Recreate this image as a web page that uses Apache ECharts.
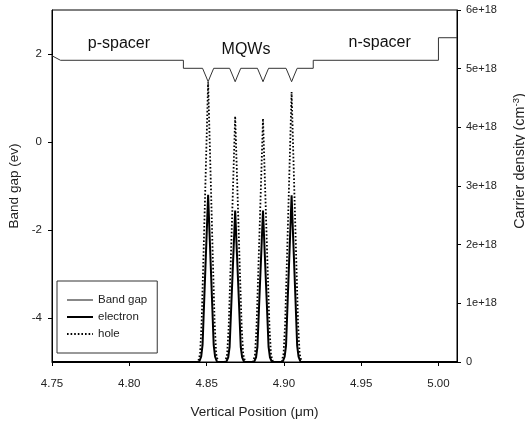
<!DOCTYPE html>
<html>
<head>
<meta charset="utf-8">
<script src="https://cdn.jsdelivr.net/npm/echarts@6/dist/echarts.min.js"></script>
<style>
	html, body { margin: 0; padding: 0; background: #fff; }
	#main { width: 525px; height: 424px; }
</style>
</head>
<body>
<div id="main"></div>
<script>
	'use strict';

	// 能带 (左轴, ev)
	var bandX = [4.75, 4.7555, 4.835, 4.835,
		4.8474, 4.8495, 4.851, 4.8525, 4.8546,
		4.8649, 4.8670, 4.8685, 4.8700, 4.8721,
		4.8829, 4.8850, 4.8865, 4.8880, 4.8901,
		4.9014, 4.9035, 4.9050, 4.9065, 4.9086,
		4.919, 4.919, 5.000, 5.000, 5.012];
	var bandY = [1.96, 1.857, 1.857, 1.675,
		1.675, 1.50, 1.37, 1.50, 1.675,
		1.675, 1.50, 1.37, 1.50, 1.675,
		1.675, 1.50, 1.37, 1.50, 1.675,
		1.675, 1.50, 1.37, 1.50, 1.675,
		1.675, 1.857, 1.857, 2.37, 2.37];

	// 电子浓度 (右轴, 1e18 cm-3)
	var elecX = [4.75,
		4.8452, 4.8465, 4.8474, 4.8485, 4.8498, 4.8510, 4.8522, 4.8535, 4.8546, 4.8555, 4.8568,
		4.8627, 4.8640, 4.8649, 4.8660, 4.8673, 4.8685, 4.8697, 4.8710, 4.8721, 4.8730, 4.8743,
		4.8807, 4.8820, 4.8829, 4.8840, 4.8853, 4.8865, 4.8877, 4.8890, 4.8901, 4.8910, 4.8923,
		4.8992, 4.9005, 4.9014, 4.9025, 4.9038, 4.9050, 4.9062, 4.9075, 4.9086, 4.9095, 4.9108,
		5.012];
	var elecY = [0,
		0, 0.09, 0.29, 1.08, 2.00, 2.85, 2.00, 1.08, 0.29, 0.09, 0,
		0, 0.08, 0.26, 0.98, 1.81, 2.58, 1.81, 0.98, 0.26, 0.08, 0,
		0, 0.08, 0.26, 0.98, 1.81, 2.58, 1.81, 0.98, 0.26, 0.08, 0,
		0, 0.09, 0.28, 1.08, 1.99, 2.84, 1.99, 1.08, 0.28, 0.09, 0,
		0];

	// 空穴浓度
	var holeX = [4.75,
		4.8445, 4.8458, 4.8468, 4.8480, 4.8495, 4.8510, 4.8525, 4.8540, 4.8552, 4.8562, 4.8575,
		4.8620, 4.8633, 4.8643, 4.8655, 4.8670, 4.8685, 4.8700, 4.8715, 4.8727, 4.8737, 4.8750,
		4.8800, 4.8813, 4.8823, 4.8835, 4.8850, 4.8865, 4.8880, 4.8895, 4.8907, 4.8917, 4.8930,
		4.8985, 4.8998, 4.9008, 4.9020, 4.9035, 4.9050, 4.9065, 4.9080, 4.9092, 4.9102, 4.9115,
		5.012];
	var holeY = [0,
		0, 0.14, 0.67, 1.81, 3.29, 4.77, 3.29, 1.81, 0.67, 0.14, 0,
		0, 0.13, 0.59, 1.59, 2.89, 4.19, 2.89, 1.59, 0.59, 0.13, 0,
		0, 0.12, 0.58, 1.58, 2.86, 4.15, 2.86, 1.58, 0.58, 0.12, 0,
		0, 0.14, 0.64, 1.75, 3.17, 4.60, 3.17, 1.75, 0.64, 0.14, 0,
		0];

	var leftTicks = [-4, -2, 0, 2];

	// 区域标注
	var notes = ['p-spacer', 'MQWs', 'n-spacer'];
	var noteX = [4.7933, 4.8755, 4.962];
	var noteY = [2.24, 2.10, 2.27];

	function zip(xs, ys) {
		return xs.map(function (x, i) { return [x, ys[i]]; });
	}

	var font = 'Liberation Sans, Arial, sans-serif';
	var black = '#000';

	var option = {
		animation: false,
		textStyle: { fontFamily: font },
		grid: {
			left: 52, right: 68, top: 10, bottom: 62,
			outerBoundsMode: 'none',
			containLabel: false,
			show: true, borderColor: black, borderWidth: 1
		},
		legend: {
			orient: 'vertical',
			left: 57, top: 281,
			data: [
				{ name: 'Band gap', lineStyle: { color: '#888' } },
				{ name: 'electron' },
				{ name: 'hole' }
			],
			itemWidth: 26, itemHeight: 10, itemGap: 5,
			itemStyle: { opacity: 0 },
			padding: [13, 10, 13, 9],
			borderColor: '#333', borderWidth: 1,
			backgroundColor: '#fff',
			textStyle: { fontSize: 11.5, color: '#222' }
		},
		xAxis: {
			type: 'value',
			min: 4.75, max: 5.012, interval: 0.05,
			name: 'Vertical Position (\u03bcm)',
			nameLocation: 'middle', nameGap: 43,
			nameTextStyle: { fontSize: 13.5, color: '#222' },
			axisLine: { onZero: false, lineStyle: { color: black } },
			axisTick: { length: 4, lineStyle: { color: black } },
			axisLabel: {
				margin: 16, fontSize: 11.5, color: '#222',
				formatter: function (v) { return v.toFixed(2); }
			},
			splitLine: { show: false }
		},
		yAxis: [{
			type: 'value',
			min: -5, max: 3, interval: 1,
			name: 'Band gap (ev)',
			nameLocation: 'middle', nameGap: 30, nameRotate: 90,
			nameTextStyle: { fontSize: 13.5, color: '#222' },
			axisLine: { lineStyle: { color: black } },
			axisTick: { length: 4, customValues: leftTicks, lineStyle: { color: black } },
			axisLabel: { margin: 10, fontSize: 11.5, color: '#222', customValues: leftTicks },
			splitLine: { show: false }
		}, {
			type: 'value',
			position: 'right',
			min: 0, max: 6, interval: 1,
			name: 'Carrier density (cm{sup|-3})',
			nameLocation: 'middle', nameGap: 54, nameRotate: 90,
			nameTextStyle: {
				fontSize: 14.5, color: '#222',
				padding: [0, 0, 0, 50],
				rich: { sup: { fontSize: 9.5, color: '#222', padding: [0, 0, 8, 0] } }
			},
			axisLine: { lineStyle: { color: black } },
			axisTick: { length: 4, lineStyle: { color: black } },
			axisLabel: {
				margin: 9, fontSize: 11, color: '#222',
				formatter: function (v) { return v === 0 ? '0' : v + 'e+18'; }
			},
			splitLine: { show: false }
		}],
		series: [{
			name: 'Band gap',
			type: 'line',
			yAxisIndex: 0,
			symbol: 'none',
			lineStyle: { color: '#333', width: 1 },
			itemStyle: { color: '#555' },
			data: zip(bandX, bandY),
			markPoint: {
				symbol: 'circle', symbolSize: 0,
				label: {
					show: true, position: 'inside',
					fontSize: 16, color: '#111', fontFamily: font,
					formatter: function (p) { return p.name; }
				},
				data: notes.map(function (n, i) {
					return { name: n, coord: [noteX[i], noteY[i]] };
				})
			}
		}, {
			name: 'electron',
			type: 'line',
			yAxisIndex: 1,
			symbol: 'none',
			lineStyle: { color: black, width: 2 },
			itemStyle: { color: black },
			data: zip(elecX, elecY)
		}, {
			name: 'hole',
			type: 'line',
			yAxisIndex: 1,
			symbol: 'none',
			lineStyle: { color: black, width: 1.8, type: [1.6, 2] },
			itemStyle: { color: black },
			data: zip(holeX, holeY)
		}]
	};

	var chart = echarts.init(document.getElementById('main'));
	chart.setOption(option);
</script>
</body>
</html>
